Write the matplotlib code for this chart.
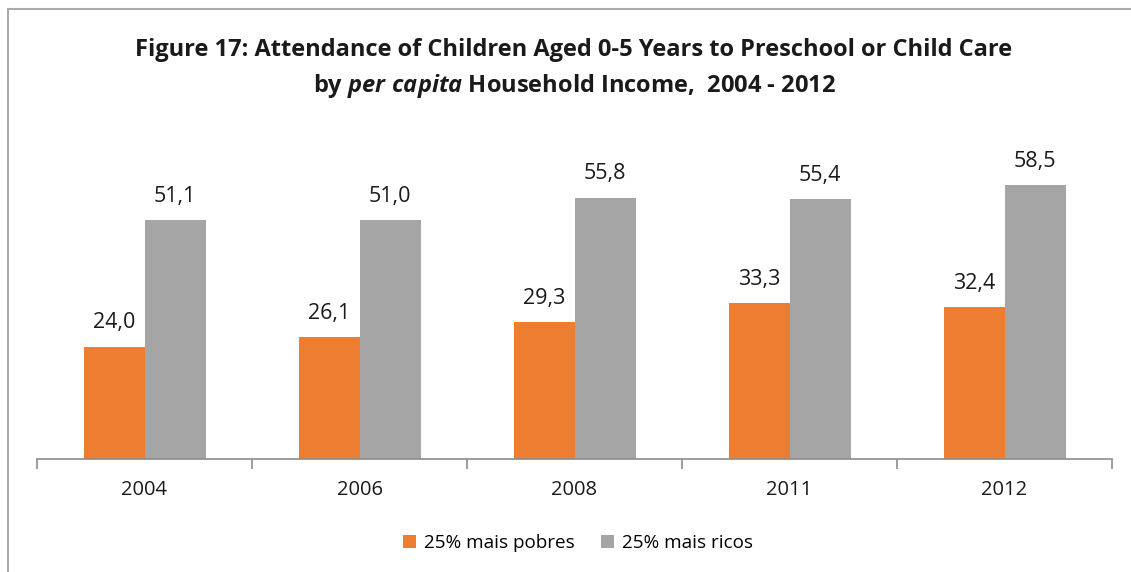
import matplotlib
matplotlib.use("Agg")
import matplotlib.pyplot as plt
import numpy as np
from matplotlib.patches import Rectangle

years = ["2004", "2006", "2008", "2011", "2012"]
poorest = [24.0, 26.1, 29.3, 33.3, 32.4]
richest = [51.1, 51.0, 55.8, 55.4, 58.5]
series_names = ["25% mais pobres", "25% mais ricos"]
colors = ["#ED7D31", "#A5A5A5"]

plt.rcParams['font.family'] = ['Open Sans', 'DejaVu Sans']
plt.rcParams['mathtext.fontset'] = 'custom'
plt.rcParams['mathtext.bfit'] = 'Open Sans:italic:bold'
plt.rcParams['mathtext.bf'] = 'Open Sans:bold'
plt.rcParams['mathtext.rm'] = 'Open Sans'
plt.rcParams['mathtext.it'] = 'Open Sans:italic'

W, H = 1131, 572
fig = plt.figure(figsize=(W / 100, H / 100), dpi=100)

# chart border (top & left visible)
fig.patches.append(Rectangle((8 / W, -0.1), 1.2, (H - 9) / H + 0.1, transform=fig.transFigure,
                             fill=False, edgecolor="#ABABAB", linewidth=1.5, zorder=0))

x0, x1 = 37, 1112
ybase, ytop = 459, 131
ax = fig.add_axes([x0 / W, (H - ybase) / H, (x1 - x0) / W, (ybase - ytop) / H])

n = len(years)
x = np.arange(n)
bw = 61 / 215
b1 = ax.bar(x - bw / 2, poorest, bw, color=colors[0], label=series_names[0])
b2 = ax.bar(x + bw / 2, richest, bw, color=colors[1], label=series_names[1])

for bars, vals in ((b1, poorest), (b2, richest)):
    for rect, v in zip(bars, vals):
        ax.annotate(f"{v:.1f}".replace(".", ","),
                    (rect.get_x() + rect.get_width() / 2, rect.get_height()),
                    xytext=(0, 13), textcoords="offset points",
                    ha="center", va="baseline", fontsize=15.5, color="#1a1a1a")

ax.set_xlim(-0.5, n - 0.5)
ax.set_ylim(0, 70)
for s in ("top", "right", "left"):
    ax.spines[s].set_visible(False)
ax.spines["bottom"].set_color("#8C8C8C")
ax.spines["bottom"].set_linewidth(1.2)
ax.set_yticks([])
ax.set_xticks(np.arange(-0.5, n, 1.0), minor=False)
ax.set_xticklabels([""] * (n + 1))
ax.tick_params(axis="x", which="major", length=7, color="#8C8C8C", width=1.2)
ax.set_xticks(x, minor=True)
ax.set_xticklabels(years, minor=True, fontsize=14.5, color="#1a1a1a")
ax.tick_params(axis="x", which="minor", length=0, pad=15)

# title
fig.text(574 / W, 1 - 50 / H, "Figure 17: Attendance of Children Aged 0-5 Years to Preschool or Child Care",
         ha="center", va="center", fontsize=17, fontweight="bold", color="#1a1a1a")
fig.text(574 / W, 1 - 86 / H,
         r"by $\mathbfit{per\ capita}$ Household Income,  2004 - 2012",
         ha="center", va="center", fontsize=17, fontweight="bold", color="#1a1a1a")

leg = fig.legend(handles=[b1, b2], labels=series_names, loc="center",
                 bbox_to_anchor=(578 / W, 1 - 543 / H), ncol=2, frameon=False,
                 fontsize=13.6, handlelength=0.7, handleheight=0.7, handletextpad=0.4,
                 columnspacing=1.4)

fig.savefig("out.png", dpi=100)
